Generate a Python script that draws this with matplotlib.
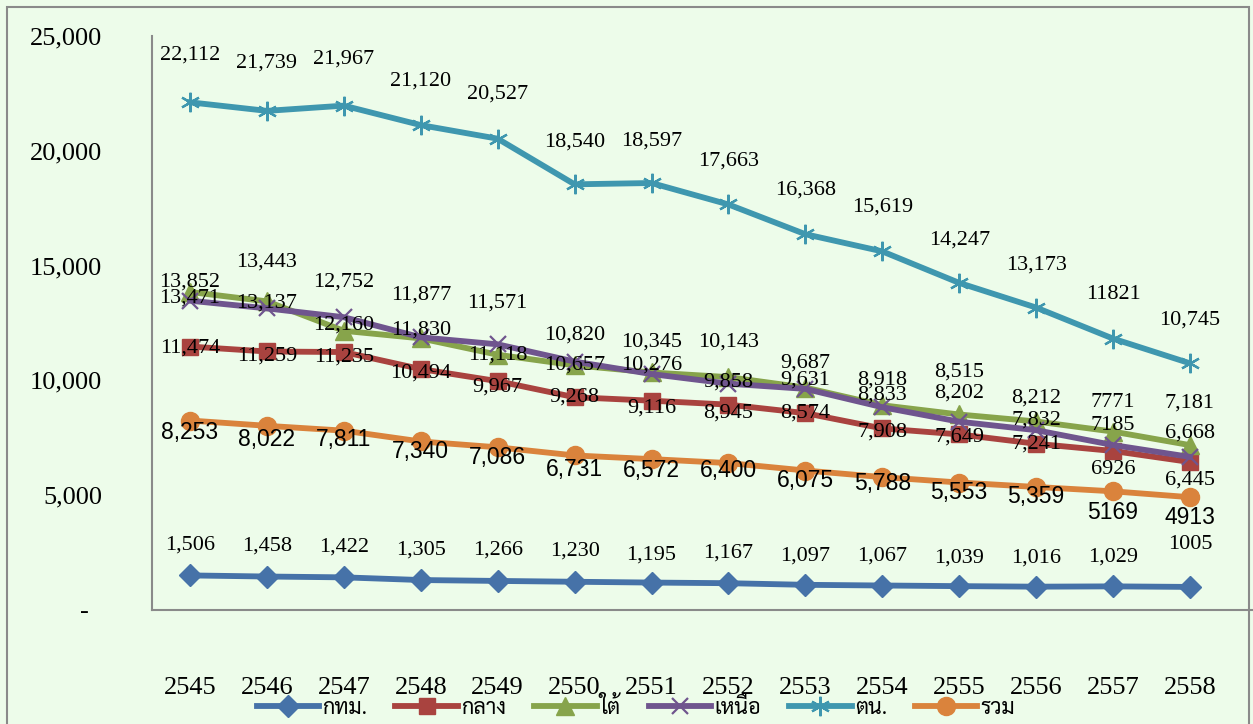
import matplotlib
matplotlib.use('Agg')
import matplotlib.pyplot as plt
from matplotlib.patches import Rectangle
import numpy as np

years = ['2545', '2546', '2547', '2548', '2549', '2550', '2551',
         '2552', '2553', '2554', '2555', '2556', '2557', '2558']

bkk = [1506, 1458, 1422, 1305, 1266, 1230, 1195, 1167, 1097, 1067, 1039, 1016, 1029, 1005]
central = [11474, 11259, 11235, 10494, 9967, 9268, 9116, 8945, 8574, 7908, 7649, 7241, 6926, 6445]
south = [13852, 13443, 12160, 11830, 11118, 10657, 10345, 10143, 9687, 8918, 8515, 8212, 7771, 7181]
north = [13471, 13137, 12752, 11877, 11571, 10820, 10276, 9858, 9631, 8833, 8202, 7832, 7185, 6668]
northeast = [22112, 21739, 21967, 21120, 20527, 18540, 18597, 17663, 16368, 15619, 14247, 13173, 11821, 10745]
total = [8253, 8022, 7811, 7340, 7086, 6731, 6572, 6400, 6075, 5788, 5553, 5359, 5169, 4913]

# a few labels in the original were typed without thousands separators
plain_labels = {('south', 12): '7771', ('north', 12): '7185', ('central', 12): '6926',
                ('total', 12): '5169', ('total', 13): '4913', ('northeast', 12): '11821',
                ('bkk', 13): '1005'}

names = ['กทม.', 'กลาง', 'ใต้', 'เหนือ', 'ตน.', 'รวม']
yticks = [0, 5000, 10000, 15000, 20000, 25000]
ytick_labels = ['-  ', '5,000', '10,000', '15,000', '20,000', '25,000']

# vertical label offsets (pixels above the marker), as placed in the original chart
dy_bkk = [30, 30, 30, 30, 31, 31, 28, 30, 29, 29, 28, 29, 29, 42]
dy_central = [-1, -5, -5, -4, -6, 0, -7, -8, 0, -4, -3, 0, -19, -18]
dy_south = [10, 39, 6, 8, 0, 0, 30, 35, 25, 25, 42, 23, 29, 42]
dy_north = [3, 5, 35, 42, 41, 27, 9, 2, 9, 12, 29, 10, 20, 24]
dy_northeast = [47, 48, 47, 44, 45, 42, 42, 43, 44, 44, 43, 43, 44, 43]
dy_total = [-12, -14, -9, -10, -10, -14, -11, -7, -10, -6, -10, -10, -21, -20]

BG = '#EDFCEA'
SERIF = ['Liberation Serif', 'DejaVu Serif']
THAI = ['Sarabun', 'Athiti', 'DejaVu Sans']

fig = plt.figure(figsize=(12.53, 7.24), dpi=100, facecolor=BG)
ax = fig.add_axes([152 / 1253, 1 - 610 / 724, 1 - 152 / 1253, (610 - 36) / 724])
ax.set_facecolor(BG)
fig.patches.append(Rectangle((7 / 1253, -0.01), 1242 / 1253, 1.0, transform=fig.transFigure,
                             fill=False, edgecolor='#8A8A8A', linewidth=1.5))

x = np.arange(len(years))
series = [
    ('bkk', bkk, dy_bkk, '#4672A8', dict(marker='D', markersize=11)),
    ('central', central, dy_central, '#A9433F', dict(marker='s', markersize=12)),
    ('south', south, dy_south, '#87A44B', dict(marker='^', markersize=13)),
    ('north', north, dy_north, '#6F558E', dict(marker='x', markersize=12, markeredgewidth=1.6)),
    ('northeast', northeast, dy_northeast, '#3F97AF',
     dict(marker=(6, 2, 0), markersize=14, markeredgewidth=1.6)),
    ('total', total, dy_total, '#DA833C', dict(marker='o', markersize=13)),
]

for (key, vals, dys, col, mk), name in zip(series, names):
    ax.plot(x, vals, color=col, linewidth=4.2, label=name, markerfacecolor=col,
            markeredgecolor=col, **mk)

for key, vals, dys, col, mk in series:
    if key == 'total':
        fam, fs = ['Liberation Sans', 'DejaVu Sans'], 16.5
    else:
        fam, fs = SERIF, 16
    for i in x:
        txt = plain_labels.get((key, i), f'{vals[i]:,}')
        ax.annotate(txt, (i, vals[i]), xytext=(0, dys[i]), textcoords='offset pixels',
                    ha='center', va='center', fontsize=fs, family=fam)

ax.set_xlim(-0.494, 13.82)
ax.set_ylim(0, 25000)
ax.set_yticks(yticks)
ax.set_yticklabels(ytick_labels, family=SERIF, fontsize=19)
ax.set_xticks(x)
ax.set_xticklabels(years, family=SERIF, fontsize=19)
ax.tick_params(axis='y', length=0, pad=36)
ax.tick_params(axis='x', length=0, pad=48)

for s in ['top', 'right']:
    ax.spines[s].set_visible(False)
for s in ['left', 'bottom']:
    ax.spines[s].set_color('#8A8A8A')
    ax.spines[s].set_linewidth(1.5)

fig.legend(loc='center', bbox_to_anchor=(636 / 1253, 1 - 708 / 724), ncol=6,
           frameon=False, prop={'family': THAI, 'size': 15.5}, handlelength=2.9,
           handletextpad=0.15, columnspacing=1.3, borderaxespad=0, borderpad=0)

fig.savefig('out.png', dpi=100, facecolor=BG)
